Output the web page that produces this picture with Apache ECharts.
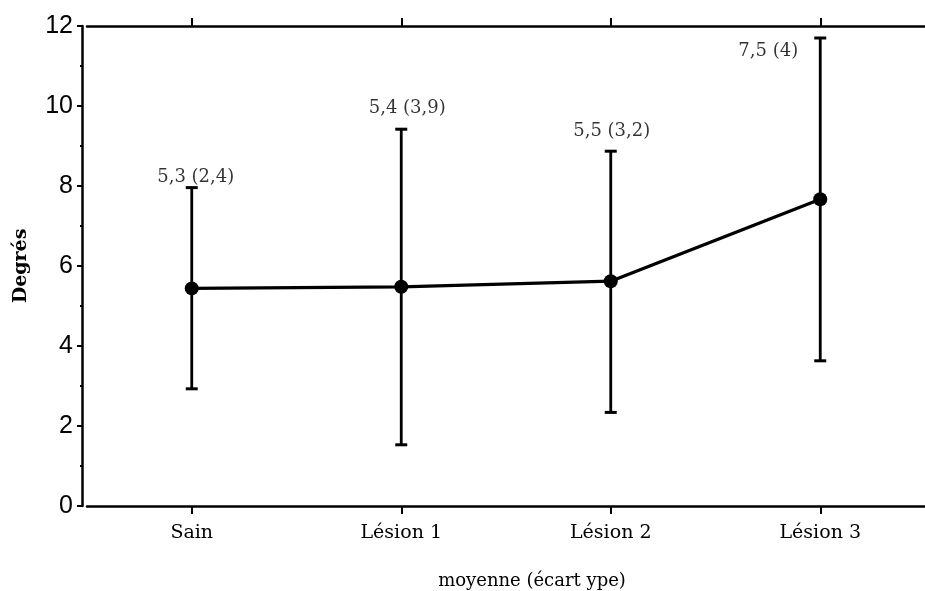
<!DOCTYPE html>
<html>
<head>
<meta charset="utf-8">
<script src="https://cdn.jsdelivr.net/npm/echarts@6/dist/echarts.min.js"></script>
<style>html,body{margin:0;padding:0;background:#fff}#c{width:925px;height:591px}</style>
</head>
<body>
<div id="c"></div>
<script>
// ---- data ----
const categories = ['Sain', 'Lésion 1', 'Lésion 2', 'Lésion 3'];
const means = [5.44, 5.48, 5.62, 7.67];
const lows = [2.93, 1.53, 2.34, 3.63];
const highs = [7.96, 9.42, 8.87, 11.7];
const valueLabels = ['5,3 (2,4)', '5,4 (3,9)', '5,5 (3,2)', '7,5 (4)'];
const yTicks = [0, 2, 4, 6, 8, 10, 12];

// ---- style ----
const labelOffsets = [[4, -10], [6, -21], [1, -20], [-52, 13]];
const serif = 'DejaVu Serif';

const chart = echarts.init(document.getElementById('c'));
chart.setOption({
  animation: false,
  backgroundColor: '#fff',
  grid: { left: 87, right: 0, top: 26, bottom: 85, outerBoundsMode: 'none', containLabel: false },
  xAxis: [{
    type: 'category', data: categories, position: 'bottom',
    axisLine: { show: true, lineStyle: { color: '#000', width: 2.5 } },
    axisTick: { show: true, interval: 0, alignWithLabel: true, inside: false, length: 8, lineStyle: { color: '#000', width: 2 } },
    axisLabel: { color: '#000', fontFamily: serif, fontSize: 19, margin: 18 },
    name: 'moyenne (écart ype)', nameLocation: 'middle', nameGap: 66,
    nameTextStyle: { color: '#000', fontFamily: serif, fontSize: 18, padding: [0, 0, 0, 52] }
  }, {
    type: 'category', data: categories, position: 'top',
    axisLine: { show: true, lineStyle: { color: '#000', width: 2.5 } },
    axisTick: { show: true, interval: 0, alignWithLabel: true, inside: false, length: 8, lineStyle: { color: '#000', width: 2 } },
    axisLabel: { show: false }
  }],
  yAxis: {
    type: 'value', min: yTicks[0], max: yTicks[yTicks.length - 1], interval: 2, offset: 5,
    axisLine: { show: true, lineStyle: { color: '#000', width: 2.5 } },
    axisTick: { show: true, length: 5, lineStyle: { color: '#000', width: 2 } },
    minorTick: { show: true, splitNumber: 2, length: 2, lineStyle: { color: '#000', width: 2 } },
    splitLine: { show: false },
    axisLabel: { color: '#000', fontFamily: 'Liberation Sans', fontSize: 25, margin: 9 },
    name: 'Degrés', nameLocation: 'middle', nameGap: 51,
    nameTextStyle: { color: '#000', fontFamily: serif, fontSize: 19, fontWeight: 'bold' }
  },
  series: [{
    type: 'custom',
    renderItem: function (params, api) {
      const x = api.value(0);
      const top = api.coord([x, api.value(2)]);
      const bot = api.coord([x, api.value(1)]);
      const hw = 6;
      const st = { stroke: '#000', lineWidth: 2.8 };
      return {
        type: 'group',
        children: [
          { type: 'line', shape: { x1: top[0], y1: top[1], x2: bot[0], y2: bot[1] }, style: st },
          { type: 'line', shape: { x1: top[0] - hw, y1: top[1], x2: top[0] + hw, y2: top[1] }, style: { stroke: '#000', lineWidth: 3 } },
          { type: 'line', shape: { x1: bot[0] - hw, y1: bot[1], x2: bot[0] + hw, y2: bot[1] }, style: { stroke: '#000', lineWidth: 3 } }
        ]
      };
    },
    data: categories.map((c, i) => [i, lows[i], highs[i]]),
    z: 2
  }, {
    type: 'line',
    data: means,
    symbol: 'circle', symbolSize: 14,
    lineStyle: { color: '#000', width: 3.3 },
    itemStyle: { color: '#000' },
    z: 3
  }, {
    type: 'scatter',
    symbolSize: 0,
    data: categories.map((c, i) => ({
      value: [i, highs[i]],
      label: {
        show: true, position: 'inside', offset: labelOffsets[i],
        formatter: valueLabels[i], color: '#000', fontFamily: serif, fontSize: 18
      }
    })),
    z: 4
  }]
});
</script>
</body>
</html>
